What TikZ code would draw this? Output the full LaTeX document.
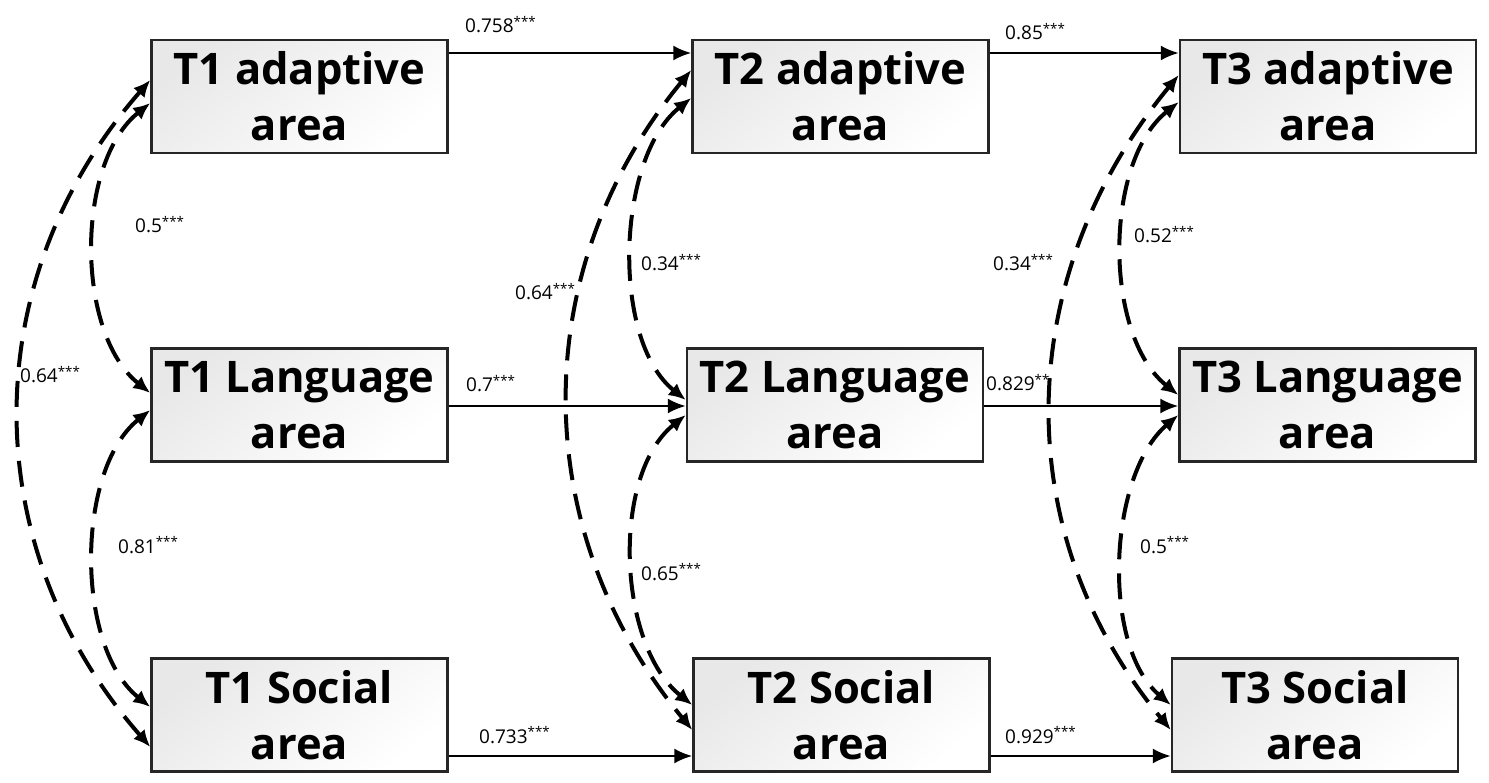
\documentclass[tikz,border=0pt]{standalone}
\usepackage{fontspec}
\setmainfont{Open Sans}
\usetikzlibrary{arrows.meta}
\begin{document}
\begin{tikzpicture}[x=1pt,y=-1pt,
  box/.style={draw=black!85, line width=2.4pt, top color=black!9, bottom color=white, shading angle=40,
    minimum width=296pt, minimum height=113pt, inner sep=0pt, align=center,
    font=\fontsize{43.5}{56}\selectfont\bfseries},
  harrow/.style={line width=2.4pt, -{Latex[length=18pt,width=15pt]}},
  corr/.style={line width=4pt, dash pattern=on 26pt off 14pt,
    {Latex[length=17pt,width=15pt]}-{Latex[length=17pt,width=15pt]}},
  lab/.style={anchor=base west, inner sep=0pt, font=\fontsize{19}{23}\selectfont}]
\useasboundingbox[fill=white] (0,0) rectangle (1489,783);
% boxes
\node[box] (t1a) at (299.5,96.5) {T1 adaptive\\area};
\node[box] (t1l) at (299.5,405) {T1 Language\\area};
\node[box] (t1s) at (299.5,715) {T1 Social\\area};
\node[box] (t2a) at (840.5,96.5) {T2 adaptive\\area};
\node[box] (t2l) at (835,405) {T2 Language\\area};
\node[box] (t2s) at (841.5,715) {T2 Social\\area};
\node[box] (t3a) at (1328,96.5) {T3 adaptive\\area};
\node[box] (t3l) at (1327.5,405) {T3 Language\\area};
\node[box, minimum width=286pt] (t3s) at (1315,715) {T3 Social\\area};
% horizontal paths
\draw[harrow] ([yshift=43.5pt]t1a.east) -- ([yshift=43.5pt]t2a.west);
\draw[harrow] ([yshift=43.5pt]t2a.east) -- ([yshift=43.5pt]t3a.west);
\draw[harrow] ([yshift=-1pt]t1l.east) -- ([yshift=-1pt]t2l.west);
\draw[harrow] ([yshift=-1pt]t2l.east) -- ([yshift=-1pt]t3l.west);
\draw[harrow] ([yshift=-41pt]t1s.east) -- ([yshift=-41pt]t2s.west);
\draw[harrow] ([yshift=-41pt]t2s.east) -- ([yshift=-41pt]t3s.west);
% correlations column 1
\draw[corr] ([yshift=-6.5pt]t1a.west) .. controls +(-75,60) and +(-75,-60) .. ([yshift=12pt]t1l.west);
\draw[corr] ([yshift=16.5pt]t1a.west) .. controls +(-175,200) and +(-175,-200) .. ([yshift=-32pt]t1s.west);
\draw[corr] ([yshift=-5pt]t1l.west) .. controls +(-75,60) and +(-75,-60) .. ([yshift=8pt]t1s.west);
% column 2
\draw[corr] ([yshift=-1.5pt]t2a.west) .. controls +(-75,60) and +(-75,-60) .. ([yshift=5pt]t2l.west);
\draw[corr] ([yshift=26.5pt]t2a.west) .. controls +(-165,200) and +(-165,-200) .. ([yshift=-15pt]t2s.west);
\draw[corr] ([yshift=-10pt]t2l.west) .. controls +(-75,60) and +(-75,-60) .. ([yshift=10pt]t2s.west);
% column 3
\draw[corr] ([yshift=-5.5pt]t3a.west) .. controls +(-75,60) and +(-75,-60) .. ([yshift=10pt]t3l.west);
\draw[corr] ([yshift=21.5pt]t3a.west) .. controls +(-165,200) and +(-165,-200) .. ([yshift=-15pt]t3s.west);
\draw[corr] ([yshift=-10pt]t3l.west) .. controls +(-70,60) and +(-70,-60) .. ([yshift=10pt]t3s.west);
% labels
\node[lab] (l1) at (465,33) {0.758\textsuperscript{***}};
\node[lab] (l2) at (1005,40) {0.85\textsuperscript{***}};
\node[lab] (l3) at (466,392) {0.7\textsuperscript{***}};
\node[lab] (l4) at (986,391) {0.829\textsuperscript{**}};
\node[lab] (l5) at (479,743) {0.733\textsuperscript{***}};
\node[lab] (l6) at (1005,743) {0.929\textsuperscript{***}};
\node[lab] (l7) at (135,233) {0.5\textsuperscript{***}};
\node[lab] (l8) at (20,383) {0.64\textsuperscript{***}};
\node[lab] (l9) at (118,553) {0.81\textsuperscript{***}};
\node[lab] (l10) at (515,300) {0.64\textsuperscript{***}};
\node[lab] (l11) at (641,271) {0.34\textsuperscript{***}};
\node[lab] (l12) at (641,580) {0.65\textsuperscript{***}};
\node[lab] (l13) at (993,271) {0.34\textsuperscript{***}};
\node[lab] (l14) at (1134,243) {0.52\textsuperscript{***}};
\node[lab] (l15) at (1140,553) {0.5\textsuperscript{***}};
\end{tikzpicture}
\end{document}
